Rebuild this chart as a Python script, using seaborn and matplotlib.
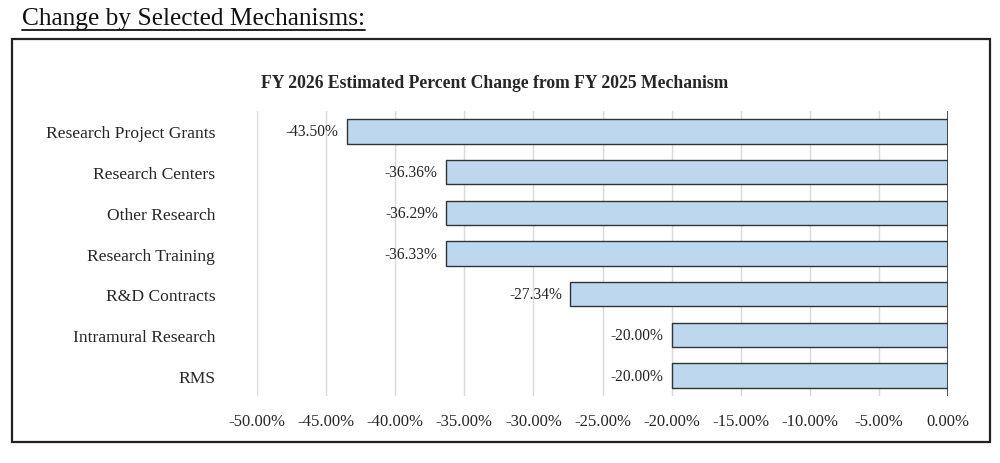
import matplotlib
matplotlib.use("Agg")
from matplotlib import pyplot as plt
from matplotlib.patches import Rectangle
from matplotlib.lines import Line2D
import pandas as pd
import seaborn as sns

# === Data ===
mechanisms = [
    "Research Project Grants", "Research Centers", "Other Research",
    "Research Training", "R&D Contracts", "Intramural Research", "RMS"
]
pct_change = [-43.50, -36.36, -36.29, -36.33, -27.34, -20.00, -20.00]
x_ticks = [-50, -45, -40, -35, -30, -25, -20, -15, -10, -5, 0]

df = pd.DataFrame({"Mechanism": mechanisms, "Change": pct_change})

sns.set_theme(style="white")
plt.rcParams["font.family"] = ["Liberation Serif", "DejaVu Serif"]

fig = plt.figure(figsize=(10, 4.64), dpi=100)
ax = fig.add_axes([0.257, 0.1444, 0.691, 0.6142])

sns.barplot(data=df, y="Mechanism", x="Change", orient="h", width=0.6,
            color="#bdd7ee", edgecolor="#333333", linewidth=1.0, saturation=1, ax=ax)

ax.set_xlim(-50, 0)
ax.set_xticks(x_ticks)
ax.set_xticklabels([f"{t:.2f}%" for t in x_ticks], fontsize=12)
ax.tick_params(axis="y", labelsize=12.6, length=0, pad=30)
ax.tick_params(axis="x", length=0, pad=12)
ax.set_xlabel("")
ax.set_ylabel("")
for s in ax.spines.values():
    s.set_visible(False)
ax.xaxis.grid(True, color="#d9d9d9", linewidth=1)
ax.set_axisbelow(True)
ax.axvline(0, color="#333333", linewidth=1.2, zorder=5)

# value labels left of each bar end
for i, v in enumerate(pct_change):
    ax.annotate(f"{v:.2f}%", (v, i), xytext=(-6, 0), textcoords="offset points",
                ha="right", va="center", fontsize=11.2, color="#222222")

# box around chart
fig.patches.append(Rectangle((0.012, 0.045), 0.978, 0.869, transform=fig.transFigure,
                             fill=False, edgecolor="#222222", linewidth=1.6))

fig.text(0.495, 0.82, "FY 2026 Estimated Percent Change from FY 2025 Mechanism",
         ha="center", va="center", fontsize=12.7, fontweight="bold")

head = fig.text(0.022, 0.958, "Change by Selected Mechanisms:", ha="left", va="center",
                fontsize=18.3, color="#111111")
fig.canvas.draw()
bb = head.get_window_extent().transformed(fig.transFigure.inverted())
fig.lines.append(Line2D([bb.x0, bb.x1], [0.934, 0.934], transform=fig.transFigure,
                        color="#111111", linewidth=1.3))

fig.savefig("out.png", dpi=100)
